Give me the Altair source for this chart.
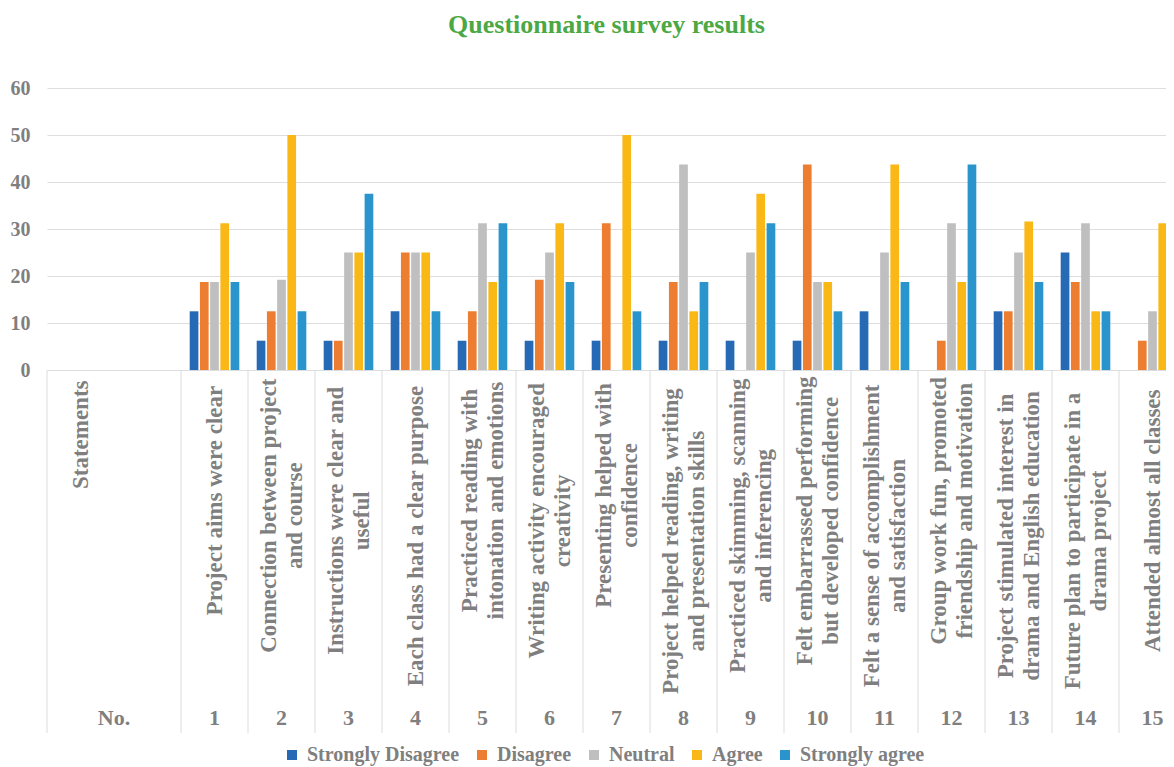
import altair as alt
import pandas as pd

# ---------------- data ----------------
series = ["Strongly Disagree", "Disagree", "Neutral", "Agree", "Strongly agree"]
colors = ["#2669B5", "#ED7D31", "#BFBFBF", "#FAB817", "#2A95CD"]
numbers = [str(i) for i in range(1, 16)]

strongly_disagree = [12.5, 6.25, 6.25, 12.5, 6.25, 6.25, 6.25, 6.25, 6.25, 6.25, 12.5, 0, 12.5, 25, 0]
disagree = [18.75, 12.5, 6.25, 25, 12.5, 19.2, 31.25, 18.75, 0, 43.75, 0, 6.25, 12.5, 18.75, 6.25]
neutral = [18.75, 19.2, 25, 25, 31.25, 25, 0, 43.75, 25, 18.75, 25, 31.25, 25, 31.25, 12.5]
agree = [31.25, 50, 25, 25, 18.75, 31.25, 50, 12.5, 37.5, 18.75, 43.75, 18.75, 31.6, 12.5, 31.25]
strongly_agree = [18.75, 12.5, 37.5, 12.5, 31.25, 18.75, 12.5, 18.75, 31.25, 12.5, 18.75, 43.75, 18.75, 12.5, 50]

statements = [
    "Project aims were clear",
    "Connection between project\nand course",
    "Instructions were clear and\nuseful",
    "Each class had a clear purpose",
    "Practiced reading with\nintonation and emotions",
    "Writing activity encouraged\ncreativity",
    "Presenting helped with\nconfidence",
    "Project helped reading, writing\nand presentation skills",
    "Practiced skimming, scanning\nand inferencing",
    "Felt embarrassed performing\nbut developed confidence",
    "Felt a sense of accomplishment\nand satisfaction",
    "Group work fun, promoted\nfriendship and motivation",
    "Project stimulated interest in\ndrama and English education",
    "Future plan to participate in a\ndrama project",
    "Attended almost all classes",
]
header_statement = "Statements"
header_number = "No."
y_ticks = [0, 10, 20, 30, 40, 50, 60]

# ---------------- layout constants ----------------
FONT = "Liberation Serif"
GRAY = "#7F7F7F"
Y_MAX = 60
Y_MIN = -77.2
PLOT_W = 1119
PLOT_H = 645
PX_PER_UNIT = PLOT_H / (Y_MAX - Y_MIN)
LABEL_FS = 23
LABEL_TOP = -3.0
NUM_Y = -74.0

slots = ["s0", "s1"] + numbers

# ---------------- tables ----------------
rows = []
for name, vals in zip(series, [strongly_disagree, disagree, neutral, agree, strongly_agree]):
    for n, v in zip(numbers, vals):
        rows.append({"slot": n, "series": name, "value": v})
bars_df = pd.DataFrame(rows)

lab_rows = [{"slot": "s0", "text": header_statement, "nchar": len(header_statement), "nlines": 1}]
for n, s in zip(numbers, statements):
    parts = s.split("\n")
    lab_rows.append({"slot": n, "text": s, "nchar": max(len(p) for p in parts), "nlines": len(parts)})
lab_df = pd.DataFrame(lab_rows)

sep_df = pd.DataFrame({"slot": ["s0"] + numbers})
num_df = pd.DataFrame({"slot": numbers, "label": numbers})
no_df = pd.DataFrame({"slot": ["s0"], "label": [header_number]})

xscale = alt.Scale(domain=slots, range=[0, 67 * len(slots)], paddingInner=0, paddingOuter=0)
yscale = alt.Scale(domain=[Y_MIN, Y_MAX], nice=False, zero=False)
yaxis = alt.Axis(values=y_ticks, grid=True, gridColor="#DEDEDE", gridWidth=1.2,
                 domain=False, ticks=False, labelFont=FONT, labelFontSize=20,
                 labelFontWeight="bold", labelColor=GRAY, labelPadding=17, title=None)

bars = alt.Chart(bars_df).mark_bar(clip=True).encode(
    x=alt.X("slot:N", scale=xscale, axis=None, sort=slots),
    xOffset=alt.XOffset("series:N", sort=series,
                        scale=alt.Scale(domain=series, paddingInner=0.15, paddingOuter=0.85)),
    y=alt.Y("value:Q", scale=yscale, axis=yaxis),
    color=alt.Color("series:N", sort=series,
                    scale=alt.Scale(domain=series, range=colors),
                    legend=alt.Legend(orient="none", legendX=235, legendY=657,
                                      direction="horizontal", columns=5, title=None,
                                      symbolType="square", symbolSize=100, symbolStrokeWidth=0,
                                      labelFont=FONT, labelFontSize=20, labelFontWeight="bold",
                                      labelColor=GRAY, labelOffset=5, columnPadding=12,
                                      padding=0, labelLimit=400)),
)

seps = alt.Chart(sep_df).mark_rule(color="#DCDCDC", strokeWidth=1).encode(
    x=alt.X("slot:N", scale=xscale, axis=None, bandPosition=0),
    y=alt.YDatum(0, scale=yscale, axis=yaxis),
    y2=alt.datum(Y_MIN),
)

half_char = 0.44 * LABEL_FS / 2 / PX_PER_UNIT
label_base = alt.Chart(lab_df).transform_calculate(
    ymid=f"{LABEL_TOP} - datum.nchar * {half_char}"
)

single = label_base.transform_filter("datum.nlines == 1").mark_text(
    angle=270, align="center", baseline="middle", font=FONT, fontSize=LABEL_FS,
    fontWeight="bold", color=GRAY, lineBreak="\n", lineHeight=26,
).encode(
    x=alt.X("slot:N", scale=xscale, axis=None, bandPosition=0.5),
    y=alt.Y("ymid:Q", scale=yscale, axis=yaxis),
    text="text:N",
)

double = label_base.transform_filter("datum.nlines == 2").mark_text(
    angle=270, align="center", baseline="middle", font=FONT, fontSize=LABEL_FS,
    fontWeight="bold", color=GRAY, lineBreak="\n", lineHeight=26, dy=-13,
).encode(
    x=alt.X("slot:N", scale=xscale, axis=None, bandPosition=0.5),
    y=alt.Y("ymid:Q", scale=yscale, axis=yaxis),
    text="text:N",
)

nums = alt.Chart(num_df).mark_text(
    align="center", baseline="middle", font=FONT, fontSize=22, fontWeight="bold", color=GRAY
).encode(
    x=alt.X("slot:N", scale=xscale, axis=None, bandPosition=0.5),
    y=alt.YDatum(NUM_Y, scale=yscale, axis=yaxis),
    text="label:N",
)

no_lab = alt.Chart(no_df).mark_text(
    align="center", baseline="middle", font=FONT, fontSize=22, fontWeight="bold", color=GRAY
).encode(
    x=alt.X("slot:N", scale=xscale, axis=None, bandPosition=1),
    y=alt.YDatum(NUM_Y, scale=yscale, axis=yaxis),
    text="label:N",
)

chart = alt.layer(bars, seps, single, double, nums, no_lab).properties(
    width=PLOT_W,
    height=PLOT_H,
    autosize=alt.AutoSizeParams(type="none"),
    padding={"left": 39, "top": 80, "right": 0, "bottom": 34},
    title=alt.Title("Questionnaire survey results", font=FONT, fontSize=26,
                    fontWeight="bold", color="#4CA844", anchor="middle", offset=40),
).configure_view(stroke=None)

chart.save("out.html", embed_options={"renderer": "svg", "actions": False})
